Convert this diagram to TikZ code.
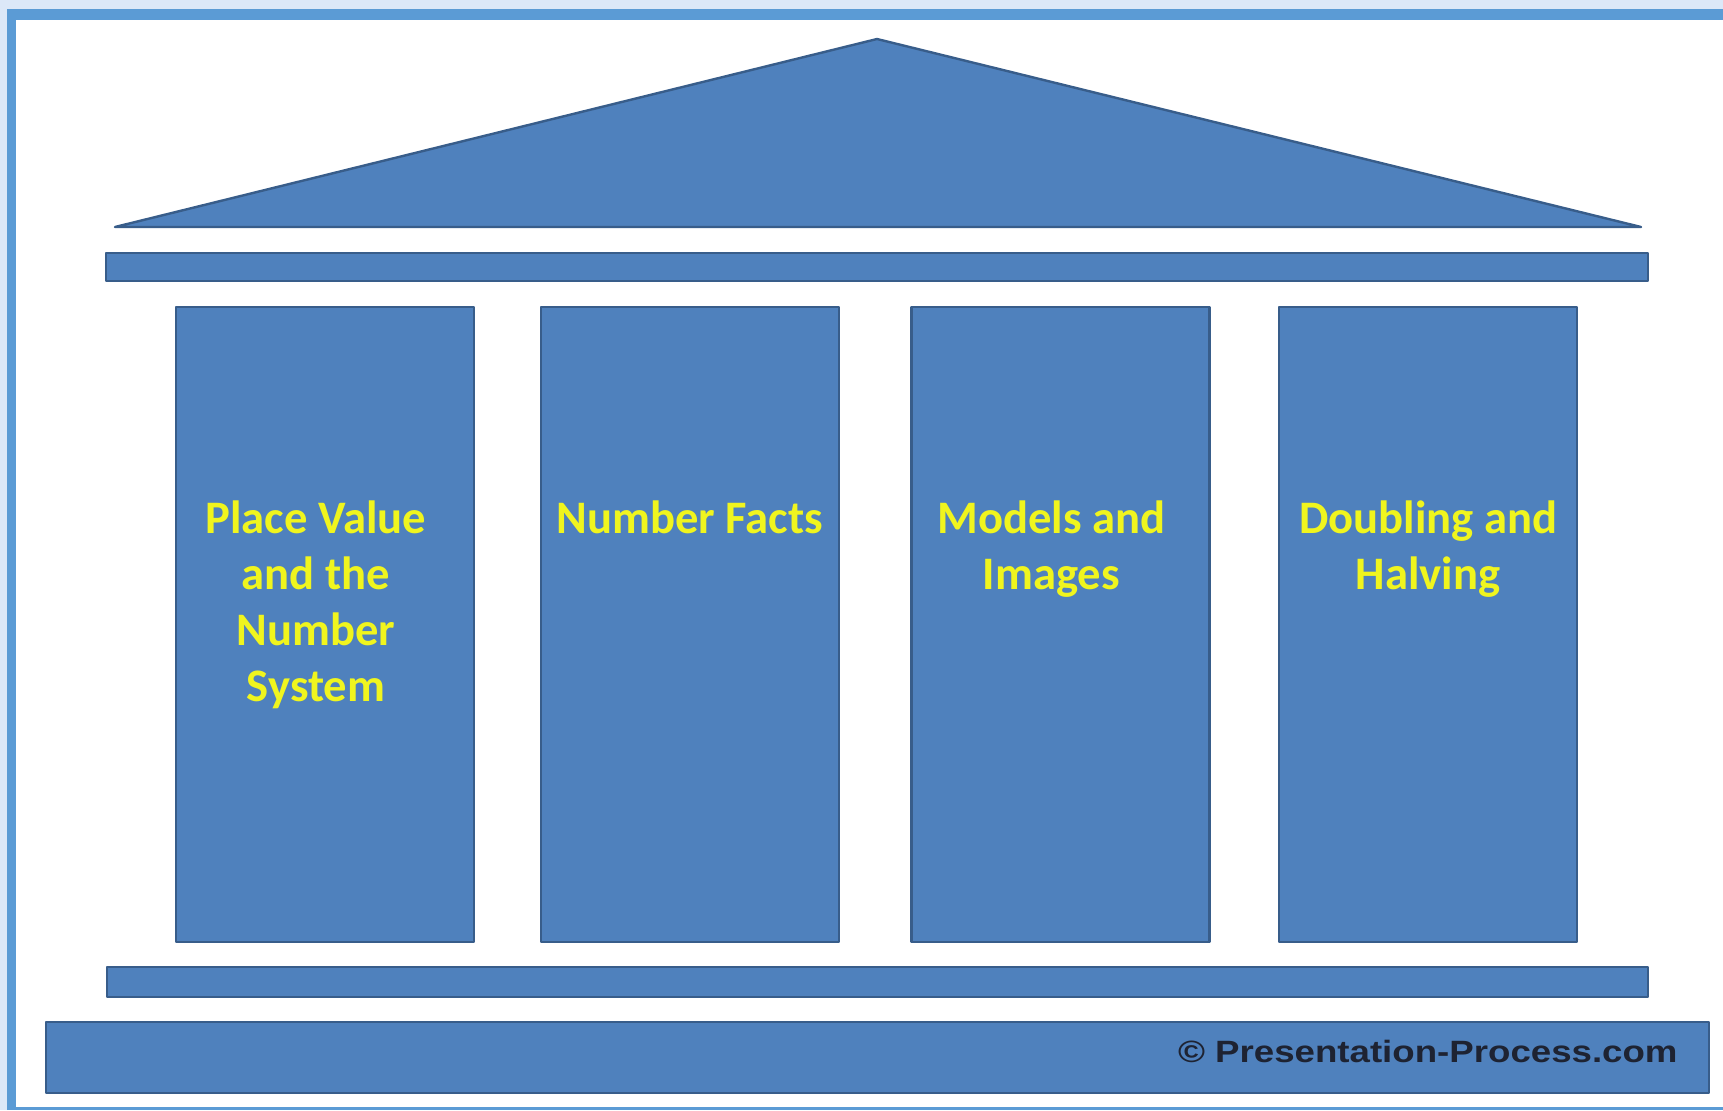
\documentclass[tikz,border=0pt]{standalone}
\usepackage{fontspec}
\setmainfont{Carlito}
\newfontfamily\arialfont[FakeStretch=1.19]{Liberation Sans}

\definecolor{pillarblue}{RGB}{79,129,189}
\definecolor{edgeblue}{RGB}{56,93,138}
\definecolor{framelight}{RGB}{220,232,248}
\definecolor{frameblue}{RGB}{91,155,213}
\definecolor{labelyellow}{RGB}{240,245,30}
\definecolor{copytext}{RGB}{30,35,50}

\tikzset{
  part/.style={fill=pillarblue, draw=edgeblue, line width=1.2pt, line join=round},
  pillartext/.style={text=labelyellow, font=\bfseries\fontsize{23.3}{28}\selectfont,
    align=center, anchor=north, inner sep=0pt}
}

\begin{document}
\begin{tikzpicture}[x=0.5pt, y=-0.5pt]
        \useasboundingbox (0,0) rectangle (1723,1110);
        % frame
        \fill [framelight] (0,0) rectangle (1723,1110);
        \fill [frameblue] (7,9) rectangle (1723,1110);
        \fill [white] (16,20) rectangle (1723,1107);
        % roof
        \draw [part] (115,227) -- (877,39) -- (1641,227) -- cycle;
        \draw [part] (106,253) rectangle (1648,281);
        % pillars
        \foreach \i/\dx/\txt in {0/-9/{Place Value\\and the\\Number\\System},
                                 1/0/{Number Facts},
                                 2/-9/{Models and\\Images},
                                 3/0/{Doubling and\\Halving}} {
            \pgfmathsetmacro{\xl}{176+367.7*\i-(\i==1)*3}
            \draw [part] (\xl,307) rectangle ++(298,635);
            \node [pillartext] (label\i) at (\xl+149+\dx,500) {\txt};
        }
        % base
        \draw [part] (107,967) rectangle (1648,997);
        \draw [part] (46,1022) rectangle (1709,1093);
        \node [anchor=base east, inner sep=0pt, text=copytext,
               font=\arialfont\bfseries\fontsize{15.4}{18}\selectfont]
              (copyright) at (1678,1062) {\textcopyright\ Presentation-Process.com};
    \end{tikzpicture}
\end{document}
